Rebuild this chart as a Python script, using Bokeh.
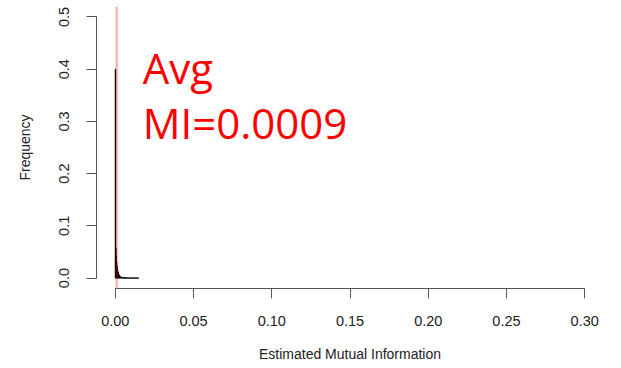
import numpy as np
from bokeh.plotting import figure
from bokeh.models import FixedTicker, PrintfTickFormatter, Span, ColumnDataSource
from bokeh.core.properties import value
from bokeh.embed import file_html
from bokeh.resources import INLINE

# Histogram of estimated mutual information (proportion per bin)
bin_width = 0.00025
freq = [0.400, 0.058, 0.042, 0.031, 0.023, 0.017, 0.013, 0.010, 0.008, 0.006,
        0.0048, 0.0038, 0.0030, 0.0024, 0.0019, 0.0015, 0.0012, 0.0010, 0.0008, 0.0007,
        0.0006, 0.0005, 0.0004, 0.0004, 0.0003, 0.0003, 0.0003, 0.0002, 0.0002, 0.0002,
        0.0002, 0.0002, 0.0001, 0.0001, 0.0001, 0.0001, 0.0001, 0.0001, 0.0001, 0.0001,
        0.0001, 0.0001, 0.0001, 0.0001, 0.0001, 0.0001, 0.0001, 0.0001, 0.0001, 0.0001,
        0.0001, 0.0001, 0.0001, 0.0001, 0.0001, 0.0001, 0.0001, 0.0001, 0.0001, 0.0001]
avg_mi = 0.0009
x_ticks = [0.0, 0.05, 0.10, 0.15, 0.20, 0.25, 0.30]
y_ticks = [0.0, 0.1, 0.2, 0.3, 0.4, 0.5]
label_lines = ["Avg", "MI=0.0009"]

left = np.arange(len(freq)) * bin_width
src = ColumnDataSource(dict(left=left, right=left + bin_width, top=freq,
                            bottom=np.zeros(len(freq))))

p = figure(width=613, height=368, x_range=(-0.012, 0.312), y_range=(-0.02, 0.52),
           output_backend="svg", toolbar_location=None,
           min_border_left=96, min_border_right=10, min_border_top=6, min_border_bottom=80)
p.outline_line_color = None
p.xgrid.visible = False
p.ygrid.visible = False

p.quad(left="left", right="right", top="top", bottom="bottom", source=src,
       fill_color="black", line_color="black", line_width=1)

p.add_layout(Span(location=avg_mi, dimension="height", line_color="red",
                  line_alpha=0.35, line_width=2))

p.text(x=[0.0175, 0.0175], y=[0.404, 0.2985], text=label_lines,
       text_color="red", text_font=value("Open Sans"), text_font_size="42px",
       text_baseline="alphabetic", text_align="left")

axis_color = "#555555"
text_color = "#222222"
for ax, ticks, fmt, b in [(p.xaxis[0], x_ticks, "%.2f", (0, 0.3)),
                          (p.yaxis[0], y_ticks, "%.1f", (0, 0.5))]:
    ax.ticker = FixedTicker(ticks=ticks)
    ax.formatter = PrintfTickFormatter(format=fmt)
    ax.bounds = b
    ax.axis_line_color = axis_color
    ax.major_tick_line_color = axis_color
    ax.minor_tick_line_color = None
    ax.major_tick_in = 0
    ax.major_tick_out = 10
    ax.major_label_text_font = "Liberation Sans"
    ax.major_label_text_font_size = "14.5px"
    ax.major_label_text_color = text_color
    ax.axis_label_text_font = "Liberation Sans"
    ax.axis_label_text_font_size = "14px"
    ax.axis_label_text_font_style = "normal"
    ax.axis_label_text_color = text_color

p.xaxis.axis_label = "Estimated Mutual Information"
p.xaxis.major_label_standoff = 17
p.xaxis.axis_label_standoff = 17
p.yaxis.axis_label = "Frequency"
p.yaxis.major_label_orientation = "vertical"
p.yaxis.major_label_standoff = 17
p.yaxis.axis_label_standoff = 24

open("out.html", "w").write(file_html(p, INLINE))
